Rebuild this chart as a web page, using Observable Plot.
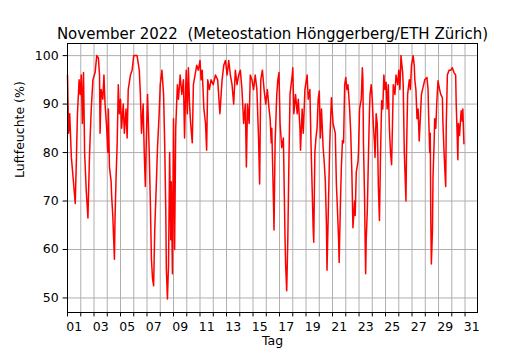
<!DOCTYPE html>
<html><head><meta charset="utf-8">
<script src="https://cdn.jsdelivr.net/npm/d3@7"></script>
<script src="https://cdn.jsdelivr.net/npm/@observablehq/plot@0.6"></script>
<style>body{margin:0;background:#fff;} #chart svg{display:block;}</style>
</head><body><div id="chart"></div>
<script>
// hours since 2022-11-01 00:00 and relative humidity (%)
const hours = [0,2,4,7,10,14,16,18,21,23,25,27,29,31,34,37,40,43,46,50,53,56,58,59,61,64,66,68,71,73,74,76,79,80,82,85,86,88,90,92,94,96,98,101,103,106,108,110,114,117,
120,126,130,132,134,137,139,141,143,145,148,150,152,154,156,158,161,163,166,168,171,174,176,178,179,181,183,185,187,188,190,192,194,196,199,201,204,207,210,212,214,215,217,219,221,223,226,228,231,234,237,240,242,244,247,
250,252,254,257,260,264,268,272,276,280,283,286,289,292,295,298,301,304,307,310,313,316,319,322,324,326,329,331,334,337,340,343,346,348,350,353,356,359,362,365,367,369,
370,373,374,376,379,381,383,385,388,391,394,395,397,399,401,403,405,407,408,410,413,416,418,421,422,425,427,430,434,436,439,441,443,445,446,448,450,452,454,456,458,460,463,465,467,469,470,472,475,478,481,483,485,487,489,491,492,494,496,498,500,502,
504,506,508,511,513,515,517,520,521,523,526,527,529,532,534,535,536,538,539,540,541,543,545,547,548,550,552,554,556,557,559,561,562,563,565,567,569,571,573,575,577,579,581,583,585,587,589,590,593,595,598,600,602,604,607,608,610,613,614,616,619,621,623,626,628,
629,631,633,635,637,639,641,644,647,651,653,654,656,657,658,659,661,662,664,665,667,669,671,674,676,679,680,682,684,685,686,688,691,694,697,700,703,704,705,707,708,710,712,713,715,716,718];
const humidity = [96,84,88,79,75,69.5,78,88,95,92,96,86,96.5,80,72,66.5,80,89,95,96.5,100,99.5,96,84,93,91,96,90,85,80,89,77,74,71,67,58,66,75,82,94,88,91,85,90,84,89,83,93,96,97,
100,100,97,92,84,90,80,73,84,92,80,70,58,54,52.5,64,74,81,88,94,97,92,82,68,56,49.8,57,80,62,74,55,87,60,85,94,91,96,92,95,83,93,97,88,97.5,90,86,82,94,96,98,97,99,95,97,89,
86,80.5,95,93,95,94,96,95,88,95,98,99,96,99,96,94,90,97,94,96,97,93,86,90,77,90,86,96,95,93,96,93,83,73.5,95,97,93,90,93,89,87,82,
85,70,64,82,92,95,96.5,86,81,83,62,57,51.5,62,78,92,94,96,97.5,88,92,88,91,85,80.5,89,84,93,96,91,93,82,73,64,61.5,80,83,85,91,92.7,83,89,81,78,74,65,55.7,66,82,91.3,86,85,84,73.5,68,62,57.3,68,77,82.5,82,94,
95.5,93,94,89,84,76,64.5,70,67,76,78,80,89,91,97.5,95,82,71,62,55,62,68,79,89,92,94,91,85.5,82,79,88,86,80,73,66,80,90.7,89,96,93,94.5,89,94,85,80,77.5,88,94,92,96,94,97,93,100,96.5,94,80,70,80,92,95,93,98,100,98,
95,93,87,89,82.4,87,92,93.5,95,95.5,93,88,80,84,66,57,64,75,82,87,85,90.7,94.8,93,92,91.3,86,80,75,73,86,96,97,97,97.5,96.5,96,90,86.5,78.5,86,83.5,87,88.6,86.5,89,81.8];
const yTicks = [50,60,70,80,90,100];
const dayLabels = ["01","03","05","07","09","11","13","15","17","19","21","23","25","27","29","31"];

const t0 = Date.UTC(2022, 10, 1);
const data = hours.map((h, i) => ({date: new Date(t0 + h * 3600e3), rh: humidity[i]}));
const midnights = d3.range(0, 31).map(d => new Date(Date.UTC(2022, 10, 1 + d)));
const labelMap = new Map(dayLabels.map(l => [Date.UTC(2022, 10, +l, 12), l]));
const noons = Array.from(labelMap.keys(), k => new Date(k));

const chart = Plot.plot({
  width: 530, height: 350,
  marginLeft: 67, marginRight: 53, marginTop: 43, marginBottom: 38,
  style: {fontFamily: "'DejaVu Sans', sans-serif", fontSize: "12.5px", background: "white", color: "black"},
  x: {type: "utc", domain: [new Date(t0), new Date(t0 + 30.94 * 864e5)], axis: null},
  y: {domain: [47.0, 102.5], axis: null},
  marks: [
    Plot.ruleX(midnights, {stroke: "#b0b0b0", strokeWidth: 1}),
    Plot.ruleY(yTicks, {stroke: "#b0b0b0", strokeWidth: 1}),
    Plot.line(data, {x: "date", y: "rh", stroke: "red", strokeWidth: 1.5}),
    Plot.frame({stroke: "black", strokeWidth: 1}),
    Plot.axisX({ticks: midnights, tickSize: 4.4, tickFormat: () => "", label: null}),
    Plot.axisX({ticks: noons, tickSize: 0, tickPadding: 9.5, tickFormat: d => labelMap.get(+d), label: null, fontSize: 12.5}),
    Plot.axisY({ticks: yTicks, tickSize: 4.4, tickPadding: 4.4, label: null, fontSize: 12.5}),
    Plot.text(["November 2022  (Meteostation Hönggerberg/ETH Zürich)"], {frameAnchor: "top", dy: -15, fontSize: 15, fill: "black"}),
    Plot.text(["Luftfeuchte (%)"], {frameAnchor: "left", dx: -48, rotate: -90, fontSize: 12.5, fill: "black"}),
    Plot.text(["Tag"], {frameAnchor: "bottom", dy: 32, fontSize: 12.5, fill: "black"})
  ]
});
document.getElementById("chart").appendChild(chart);
</script>
</body></html>
